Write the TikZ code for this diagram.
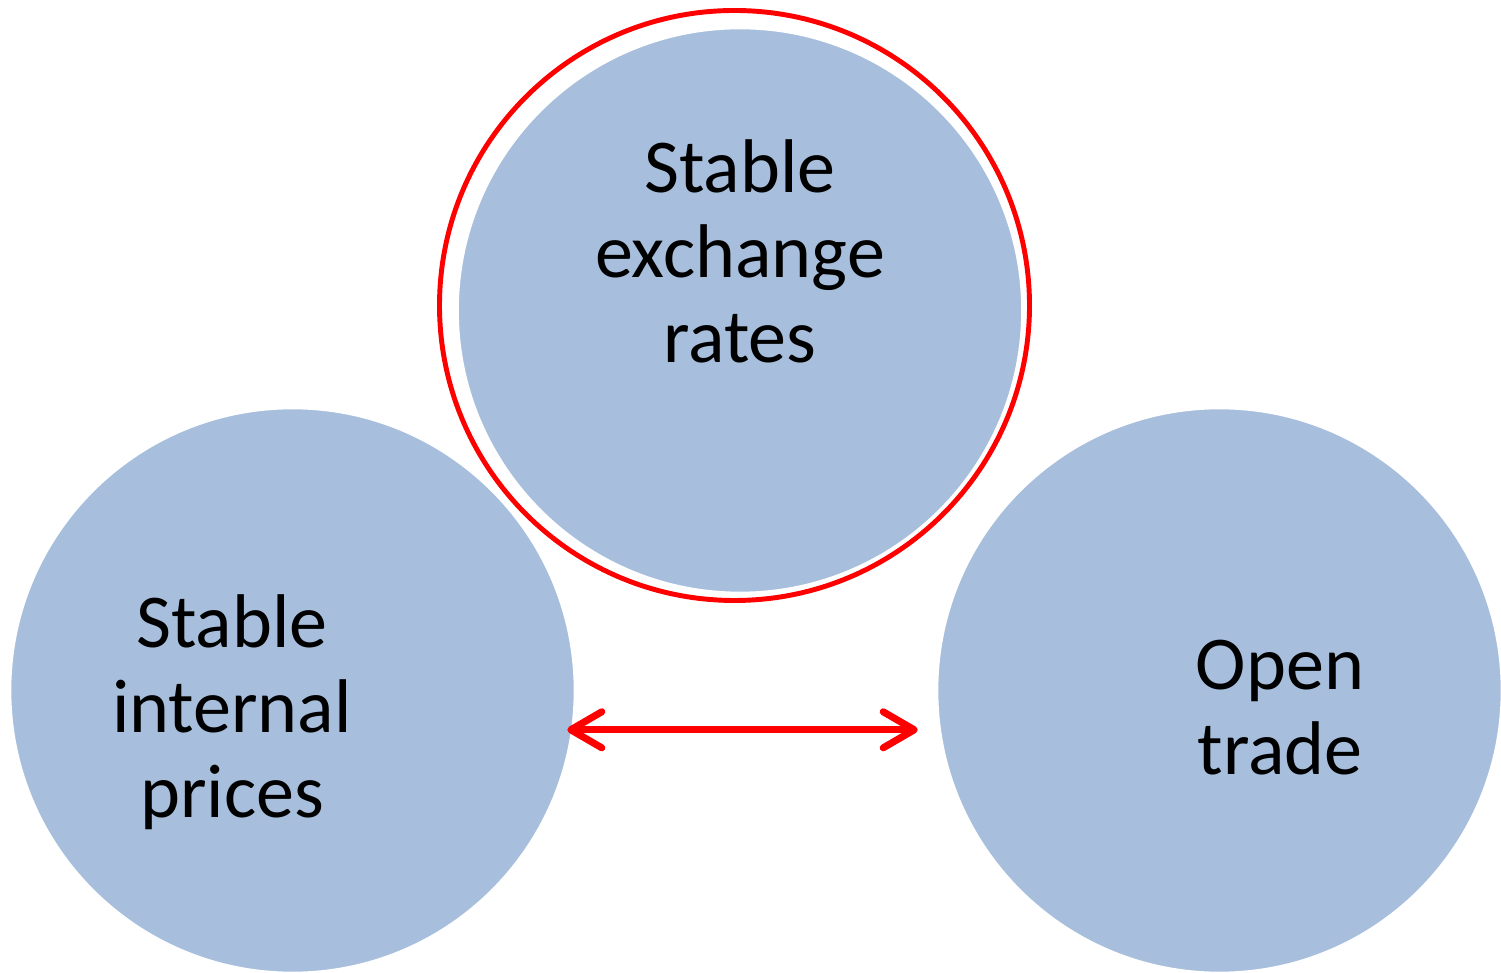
\documentclass[tikz,border=0pt]{standalone}
\usepackage{fontspec}
\setmainfont{Carlito}
\usetikzlibrary{positioning, arrows.meta}

\definecolor{bubbleblue}{RGB}{167,191,221}

\begin{document}
\begin{tikzpicture}[
    % GLOBAL CFG
    font=\fontsize{43.3}{48.4}\selectfont,
    % Styles
    bubble/.style={% For the three blue circles
        circle,
        fill=bubbleblue,
        draw=white,
        line width=1.5pt,
        minimum size=11.3cm,
        inner sep=0pt,
        outer sep=0pt,
        },
    ring/.style={% Red ring round the top circle
        circle,
        draw=red,
        line width=2.8pt,
        minimum size=11.8cm,
        inner sep=0pt,
        outer sep=0pt,
        },
    caption/.style={% Text inside the circles
        align=center,
        inner sep=0pt,
        },
    twoway/.style={% Double arrow
        draw=red,
        line width=4pt,
        {Straight Barb[length=0.62cm,width=0.72cm,round]}-{Straight Barb[length=0.62cm,width=0.72cm,round]},
        },
    ]

    % Fix the page size
    \useasboundingbox (0,0) rectangle (30.02,19.46);

    % Draw the circles
    \node [bubble] (prices) at (5.85,5.65) {};
    \node [bubble] (trade) at (24.39,5.65) {};
    \node [bubble] (rates) at (14.8,13.25) {};
    \node [ring] (rates_ring) at (14.69,13.35) {};

    % Texts
    \node [caption] (rates_txt) at (14.8,14.44) {Stable\\exchange\\rates};
    \node [caption] (prices_txt) at (4.64,5.22) {Stable\\internal\\prices};
    \node [caption] (trade_txt) at (25.6,5.3) {Open\\trade};

    % Arrow
    \draw [twoway, shorten <=-0.1cm, shorten >=0.44cm] (prices.-8) -- (trade.188);

\end{tikzpicture}
\end{document}
